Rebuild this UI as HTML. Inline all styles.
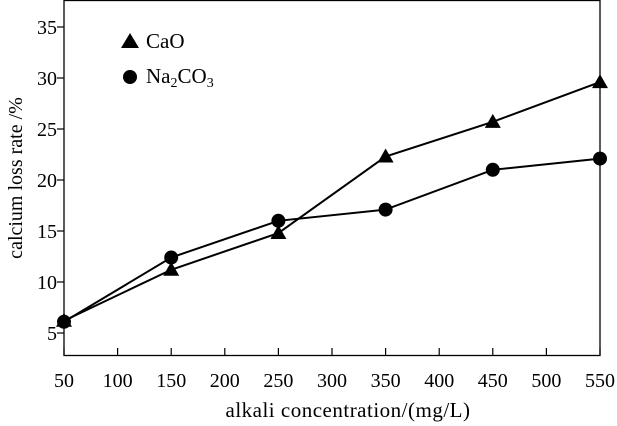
<!DOCTYPE html>
<html><head><meta charset="utf-8"><style>
body{margin:0;background:#fff}
svg{display:block;font-family:"Liberation Serif",serif}
</style></head><body>
<svg width="617" height="426">
<g id="g"></g>
<g>
<polygon points="130,33 121,48 139,48" fill="#000"/>
<text x="146" y="48" font-size="21">CaO</text>
<circle cx="130" cy="77" r="7" fill="#000"/>
<text x="146" y="83" font-size="21">Na<tspan font-size="14" dy="4">2</tspan><tspan dy="-4">CO</tspan><tspan font-size="14" dy="4">3</tspan></text>
</g>
<text x="348" y="417" font-size="21" letter-spacing="0.5" text-anchor="middle">alkali concentration/(mg/L)</text>
<text transform="translate(22,178) rotate(-90)" font-size="20" text-anchor="middle">calcium loss rate /%</text>
</svg>
<script>
const xCats=[50,150,250,350,450,550];
const caoValues=[6.2,11.2,14.8,22.3,25.7,29.6];
const naValues=[6.1,12.4,16.0,17.1,21.0,22.1];
const xTicks=[50,100,150,200,250,300,350,400,450,500,550];
const yTicks=[5,10,15,20,25,30,35];
const L=64,R=600,T=0,B=355;
const x=v=>L+(v-50)/500*(R-L);
const y=v=>384-v*10.2;
const g=document.getElementById('g');
const NS='http://www.w3.org/2000/svg';
function mk(t,a){const e=document.createElementNS(NS,t);for(const k in a)e.setAttribute(k,a[k]);g.appendChild(e);return e;}
let f=mk('rect',{x:L,y:T+0.5,width:R-L,height:B-T,fill:'none',stroke:'#000','stroke-width':1.3});


xTicks.forEach(v=>{
 let l=mk('line',{x1:x(v),x2:x(v),y1:B,y2:B-7,stroke:'#000','stroke-width':1.2});
 
 
 let t=mk('text',{x:x(v),y:387,'font-size':20,'text-anchor':'middle'});t.textContent=v;
 
 
});
yTicks.forEach(v=>{
 let l=mk('line',{x1:L-7,x2:L,y1:y(v),y2:y(v),stroke:'#000','stroke-width':1.2});
 
 
 let t=mk('text',{x:L-7,y:y(v)+7,'font-size':20,'text-anchor':'end'});t.textContent=v;
 
 
});
function series(vals,name,marker){
 let p=mk('polyline',{points:xCats.map((c,i)=>x(c)+','+y(vals[i])).join(' '),fill:'none',stroke:'#000','stroke-width':2});
 
 
 xCats.forEach((c,i)=>{
  let m;
  if(marker==='tri'){const cx=x(c),cy=y(vals[i]);m=mk('polygon',{points:`${cx},${cy-8} ${cx-8},${cy+6} ${cx+8},${cy+6}`,fill:'#000'});}
  else m=mk('circle',{cx:x(c),cy:y(vals[i]),r:7,fill:'#000'});
  
  
 });
}
series(caoValues,'cao','tri');
series(naValues,'na2co3','circ');
</script>
</body></html>
